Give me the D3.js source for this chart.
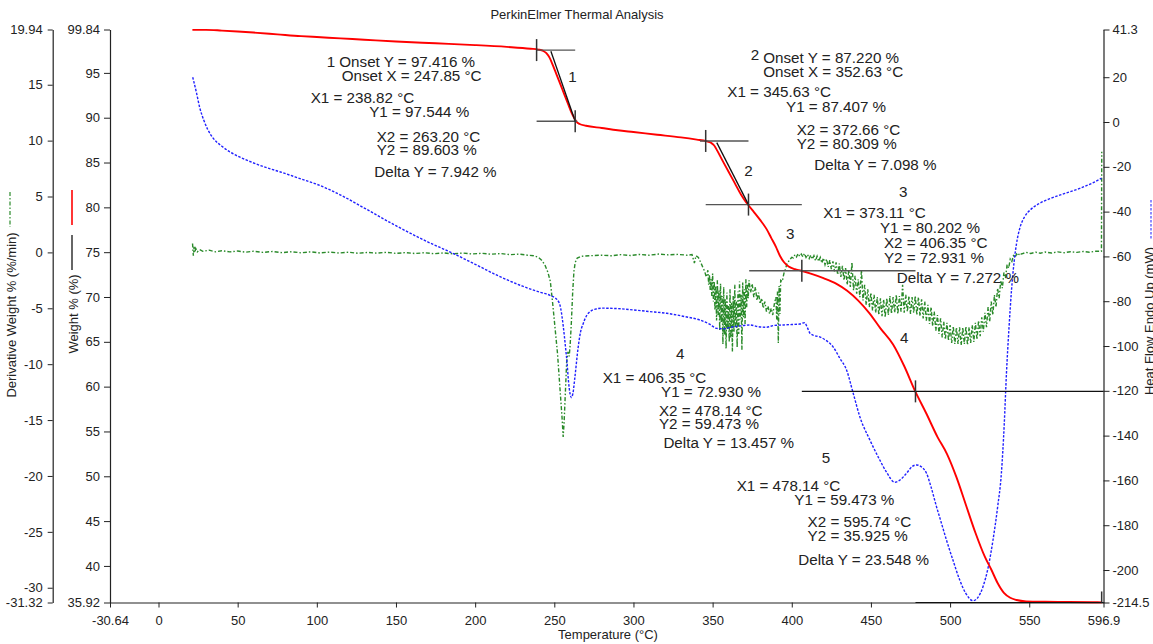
<!DOCTYPE html>
<html>
<head>
<meta charset="utf-8">
<script src="https://cdn.jsdelivr.net/npm/d3@7"></script>
<style>
  html, body { margin: 0; padding: 0; background: #fff; }
  svg { display: block; font-family: "Liberation Sans", Arial, Helvetica, sans-serif; }
</style>
</head>
<body>
<svg id="chart" width="1153" height="644"></svg>
<script>
// ---- TGA weight (%) vs temperature (°C) ----
const weightCurve = [
  [21.4, 99.80], [30, 99.80], [40, 99.72], [50, 99.62], [60, 99.50], [75, 99.30], [90, 99.10],
  [100, 99.00], [115, 98.85], [130, 98.70], [150, 98.50], [175, 98.30], [200, 98.10], [220, 97.90],
  [235, 97.70], [240, 97.60], [243, 97.45], [245, 97.20], [247, 96.70], [249, 95.90], [251, 95.00],
  [253, 94.10], [255, 93.20], [257, 92.30], [259, 91.40], [261, 90.50], [262.5, 90.00], [264, 89.55],
  [266, 89.30], [270, 89.10], [280, 88.85], [290, 88.60], [300, 88.40], [315, 88.10], [330, 87.80],
  [340, 87.55], [346, 87.38], [349, 87.20], [351, 86.90], [353, 86.30], [356, 85.30], [360, 84.00],
  [364, 82.70], [368, 81.40], [371, 80.60], [373, 80.15], [376, 79.50], [380, 78.60], [384, 77.60],
  [387, 76.60], [390, 75.60], [392.5, 74.60], [395, 73.90], [398, 73.40], [402, 73.10], [406, 72.93],
  [412, 72.60], [420, 72.10], [428, 71.50], [435, 70.70], [442, 69.60], [449, 68.20], [456, 66.50],
  [464, 64.70], [471, 62.30], [478, 59.47], [485, 57.00], [492, 54.40], [498, 52.50], [504, 49.90],
  [510, 46.80], [516, 43.70], [522, 41.00], [526, 39.60], [530, 38.10], [534, 37.00], [538, 36.45],
  [542, 36.20], [548, 36.05], [560, 36.00], [575, 35.98], [590, 35.95], [596, 35.93]
];

// ---- Derivative weight (%/min) ----
const derivCurve = [
  [21.5, 0.8], [22, -0.3], [22.5, 0.5], [23, 0.0], [23.5, 0.35], [24.5, 0.05], [26, 0.25], [28, 0.1],
  [32, 0.2], [36, 0.05], [40, 0.15], [45, 0.05], [50, 0.12], [55, 0.02], [60, 0.1], [66, 0.0],
  [72, 0.08], [78, -0.02], [84, 0.06], [90, -0.04], [96, 0.05], [102, -0.05], [108, 0.03], [114, -0.06],
  [120, 0.02], [126, -0.08], [132, 0.0], [138, -0.07], [144, 0.01], [150, -0.09], [156, -0.02],
  [162, -0.1], [168, -0.03], [174, -0.12], [180, -0.05], [186, -0.13], [192, -0.06], [198, -0.14],
  [204, -0.08], [210, -0.16], [216, -0.1], [222, -0.2], [228, -0.15], [233, -0.25], [237, -0.3],
  [240, -0.45], [242, -0.7], [244, -1.1], [246, -1.8], [247.5, -2.6], [249, -4.6], [250.5, -6.8],
  [252, -9.0], [253.5, -12.0], [255, -15.0], [255.6, -16.5], [256.2, -15.2], [257, -12.5],
  [257.8, -9.8], [258.6, -8.9], [259.4, -9.3], [260, -8.3], [260.8, -6.2], [261.6, -3.6],
  [262.4, -1.7], [263.2, -0.9], [264.5, -0.5], [267, -0.35], [272, -0.3], [280, -0.25], [286, -0.3],
  [292, -0.2], [298, -0.28], [304, -0.18], [310, -0.25], [316, -0.15], [322, -0.22], [328, -0.18],
  [334, -0.25], [337, -0.2], [338.5, -0.95], [339.5, -0.3], [341, -0.45], [342.5, -0.9], [344, -1.4],
  [345, -1.7], [346, -2.2], [347, -1.6], [347.5, -2.9], [348, -2.0], [348.5, -3.4], [349, -2.4],
  [349.5, -3.9], [350, -1.9], [350.5, -4.4], [351, -2.6], [351.5, -5.2], [352, -3.0], [352.5, -6.1],
  [353, -2.5], [353.5, -5.6], [354, -3.4], [354.5, -7.0], [355, -2.8], [355.5, -6.3], [356, -3.9],
  [356.5, -8.2], [357, -3.1], [357.5, -7.4], [358, -4.2], [358.5, -8.6], [359, -3.6], [359.5, -6.9],
  [360, -4.8], [360.5, -8.0], [361, -3.3], [361.5, -7.7], [362, -4.5], [362.5, -8.9], [363, -3.9],
  [363.5, -7.1], [364, -2.9], [364.5, -6.6], [365, -4.4], [365.5, -8.5], [366, -3.5], [366.5, -7.3],
  [367, -2.6], [367.5, -6.0], [368, -3.8], [368.5, -8.7], [369, -2.7], [369.5, -5.8], [370, -3.3],
  [370.5, -6.4], [371, -2.4], [371.5, -4.9], [372, -2.9], [372.5, -4.1], [373, -2.5], [374, -3.6],
  [375, -2.8], [376, -4.0], [377, -3.1], [378, -4.3], [379, -3.6], [380, -4.6], [381, -4.1],
  [382, -5.0], [383, -4.4], [384, -5.3], [385, -4.8], [386, -5.5], [387, -5.0], [388, -5.6],
  [389, -4.6], [390, -4.0], [390.5, -6.0], [391, -3.5], [391.5, -8.1], [392, -3.0], [392.5, -5.5],
  [393, -2.5], [394, -2.6], [395, -1.9], [396, -1.5], [397, -1.0], [398, -0.8], [399, -0.6],
  [400, -0.45], [401, -0.5], [402, -0.2], [403, -0.4], [404, -0.1], [405, -0.35], [406, -0.15],
  [407, -0.4], [408, -0.1], [409, -0.45], [410, -0.2], [411, -0.55], [412, -0.25], [413, -0.6],
  [414, -0.3], [415, -0.75], [416, -0.35], [417, -0.8], [418, -0.45], [419, -0.95], [420, -0.5],
  [421, -1.1], [422, -0.6], [423, -1.3], [424, -0.7], [425, -1.5], [426, -0.8], [427, -1.7],
  [428, -0.9], [429, -2.0], [430, -1.0], [431, -2.2], [432, -1.2], [433, -2.5], [434, -1.4],
  [435, -2.9], [436, -1.6], [437, -3.1], [438, -0.9], [439, -3.4], [440, -2.1], [441, -3.7],
  [442, -2.4], [443, -4.0], [444, -1.6], [445, -4.3], [446, -2.9], [447, -4.7], [448, -3.3],
  [449, -4.9], [450, -3.6], [451, -5.2], [452, -3.8], [453, -5.4], [454, -4.0], [455, -5.6],
  [456, -4.1], [457, -5.7], [458, -4.2], [459, -5.8], [460, -4.1], [461, -5.6], [462, -3.9],
  [463, -5.5], [464, -4.0], [465, -5.4], [466, -3.8], [467, -5.5], [468, -3.9], [469, -5.3],
  [470, -2.9], [471, -5.4], [472, -3.8], [473, -5.3], [474, -3.9], [475, -5.5], [476, -4.0],
  [477, -5.4], [478, -3.9], [479, -5.6], [480, -4.0], [481, -5.7], [482, -4.2], [483, -5.9],
  [484, -4.4], [485, -6.1], [486, -4.7], [487, -6.4], [488, -4.9], [489, -6.6], [490, -5.3],
  [491, -7.0], [492, -5.6], [493, -7.3], [494, -5.9], [495, -7.6], [496, -6.2], [497, -7.8],
  [498, -6.3], [499, -7.9], [500, -6.5], [501, -8.1], [502, -6.6], [503, -8.2], [504, -6.7],
  [505, -8.2], [506, -6.7], [507, -8.3], [508, -6.7], [509, -8.2], [510, -6.6], [511, -8.3],
  [512, -6.7], [513, -8.1], [514, -6.5], [515, -8.0], [516, -6.3], [517, -7.8], [518, -6.1],
  [519, -7.5], [520, -5.8], [521, -7.1], [522, -5.4], [523, -6.7], [524, -4.9], [525, -6.2],
  [526, -4.4], [527, -5.6], [528, -3.8], [529, -4.9], [530, -3.2], [531, -4.1], [532, -2.5],
  [533, -3.2], [534, -1.8], [535, -2.3], [536, -1.1], [537, -1.4], [538, -0.6], [539, -0.8],
  [540, -0.3], [541, -0.45], [542, -0.15], [543, -0.3], [544, -0.05], [545, -0.15], [548, 0.0],
  [551, -0.1], [554, 0.02], [557, -0.08], [560, 0.03], [564, -0.06], [568, 0.05], [572, -0.03],
  [576, 0.06], [580, 0.0], [584, 0.08], [588, 0.02], [592, 0.1], [595.6, 0.1], [595.8, 9.0]
];

// ---- Heat flow, endo up (mW) ----
const heatCurve = [
  [21.6, 20.0], [22.5, 17.5], [24, 13.0], [26, 6.5], [28.5, 1.0], [31, -3.2], [34.5, -7.2], [40, -10.8],
  [45, -13.3], [55, -16.8], [65, -19.6], [77, -22.3], [90, -25.4], [100, -27.8], [115, -32.6],
  [130, -38.4], [150, -46.3], [170, -53.5], [185, -58.3], [200, -63.5], [215, -68.8], [230, -73.3],
  [241, -76.0], [247, -77.3], [252, -79.5], [254, -83.0], [255.7, -91.4], [257, -100.0], [258, -107.0],
  [259, -116.0], [260, -121.5], [260.8, -123.0], [261.8, -121.0], [263, -114.0], [265, -101.0],
  [266.5, -94.0], [268.3, -89.9], [270.5, -86.3], [272.5, -84.7], [276, -83.5], [280, -83.1],
  [290, -83.3], [300, -83.9], [310, -84.6], [321, -85.4], [332, -86.8], [342, -88.4], [348, -90.2],
  [352.5, -92.1], [357, -92.3], [363, -91.4], [368, -91.0], [373.5, -90.6], [379, -91.4], [384, -91.6],
  [389, -90.8], [394.6, -90.6], [400, -90.4], [405, -90.2], [408, -89.6], [410, -92.0], [411.5, -94.3],
  [414, -95.3], [418, -96.0], [421, -97.2], [426, -100.3], [430.4, -105.5], [434.6, -110.7],
  [438.8, -121.1], [443, -131.6], [449.3, -141.9], [455.6, -150.9], [460, -156.5], [465, -160.8],
  [468, -160.0], [472.5, -156.8], [476, -153.8], [478.8, -153.1], [482, -154.0], [485.1, -156.8],
  [488, -163.0], [491.4, -171.7], [494.5, -179.0], [497.7, -186.6], [502, -196.0], [506.1, -204.5],
  [510, -210.5], [514.5, -213.7], [517.5, -212.3], [520.8, -207.4], [524, -199.0], [527.1, -186.6],
  [530, -172.0], [532.4, -156.8], [534.2, -135.0], [535.6, -112.2], [537.2, -92.0], [538.8, -75.0],
  [540.5, -62.0], [542, -54.1], [544, -47.5], [547, -42.4], [551, -39.0], [556, -36.5], [563, -34.2],
  [572, -32.0], [582, -29.6], [590, -27.2], [595.6, -25.1]
];

// ---- Axis ticks ----
const tempTicks = [-30.64, 0, 50, 100, 150, 200, 250, 300, 350, 400, 450, 500, 550, 596.9];
const weightTicks = [35.92, 40, 45, 50, 55, 60, 65, 70, 75, 80, 85, 90, 95, 99.84];
const derivTicks = [-31.32, -30, -25, -20, -15, -10, -5, 0, 5, 10, 15, 19.94];
const heatTicks = [-214.5, -200, -180, -160, -140, -120, -100, -80, -60, -40, -20, 0, 20, 41.3];

// ---- Step analysis results (temperature °C, weight %) ----
const stepMarkers = [
  [238.82, 97.544], [263.20, 89.603], [345.63, 87.407], [372.66, 80.309],
  [406.35, 72.931], [478.14, 59.473], [595.74, 35.925]
];
// [from T, to T, weight]
const stepBaselines = [
  [238.82, 263.20, 97.544], [238.82, 264.5, 89.603], [342.0, 372.66, 87.407],
  [345.63, 406.35, 80.309], [373.11, 478.14, 72.931], [406.35, 596.9, 59.473],
  [478.14, 596.9, 35.925]
];
// onset tangent: [onset T, onset W, end T, end W]
const onsetTangents = [
  [247.85, 97.416, 263.20, 89.603],
  [352.63, 87.220, 372.66, 80.309]
];

// Result text, anchored at [T, W]
const resultLabels = [
  ["1 Onset Y = 97.416 %", 106.2, 95.66], ["Onset X = 247.85 °C", 115.7, 94.13],
  ["X1 = 238.82 °C", 96.1, 91.61], ["Y1 = 97.544 %", 133.1, 90.11],
  ["X2 = 263.20 °C", 137.8, 87.32], ["Y2 = 89.603 %", 137.8, 85.84],
  ["Delta Y = 7.942 %", 136.3, 83.42],
  ["2", 374.1, 96.44], ["Onset Y = 87.220 %", 382.0, 96.14], ["Onset X = 352.63 °C", 382.0, 94.57],
  ["X1 = 345.63 °C", 359.3, 92.28], ["Y1 = 87.407 %", 396.4, 90.67],
  ["X2 = 372.66 °C", 403.1, 88.07], ["Y2 = 80.309 %", 403.1, 86.48],
  ["Delta Y = 7.098 %", 414.2, 84.17],
  ["3", 467.7, 81.19], ["X1 = 373.11 °C", 419.9, 78.78], ["Y1 = 80.202 %", 455.7, 77.17],
  ["X2 = 406.35 °C", 458.2, 75.43], ["Y2 = 72.931 %", 458.2, 73.83],
  ["Delta Y = 7.272 %", 466.3, 71.59],
  ["4", 326.9, 63.05], ["X1 = 406.35 °C", 280.6, 60.37], ["Y1 = 72.930 %", 317.4, 58.81],
  ["X2 = 478.14 °C", 316.1, 56.72], ["Y2 = 59.473 %", 316.1, 55.24],
  ["Delta Y = 13.457 %", 318.9, 53.12],
  ["5", 418.9, 51.45], ["X1 = 478.14 °C", 365.2, 48.39], ["Y1 = 59.473 %", 401.6, 46.80],
  ["X2 = 595.74 °C", 410.0, 44.31], ["Y2 = 35.925 %", 410.0, 42.78],
  ["Delta Y = 23.548 %", 404.1, 40.10]
];
const stepNumbers = [["1", 258.8, 94.02], ["2", 370.0, 83.50], ["3", 396.4, 76.43], ["4", 468.4, 64.84]];

// ---- Layout ----
const svg = d3.select("#chart");
const plotLeft = 110, plotRight = 1103.5, plotTop = 29.5, plotBottom = 602.5, derivAxisX = 52.7;
const textColor = "#222";

const x = d3.scaleLinear().domain([-30.64, 596.9]).range([plotLeft, plotRight]);
const yW = d3.scaleLinear().domain([35.92, 99.84]).range([plotBottom, plotTop]);
const yD = d3.scaleLinear().domain([-31.32, 19.94]).range([plotBottom, plotTop]);
const yH = d3.scaleLinear().domain([-214.5, 41.3]).range([plotBottom, plotTop]);

function styleAxis(g) {
  g.select(".domain").attr("stroke", "#222").attr("stroke-width", 1.2);
  g.selectAll(".tick line").attr("stroke", "#222").attr("stroke-width", 1);
  g.selectAll(".tick text").attr("fill", textColor).style("font-size", "13px")
    .style("font-family", "'Liberation Sans', Arial, sans-serif");
}

// Axes
svg.append("g").attr("transform", `translate(0,${plotBottom})`)
  .call(d3.axisBottom(x).tickValues(tempTicks).tickFormat(d => String(d))
    .tickSize(5).tickSizeOuter(0).tickPadding(8))
  .call(styleAxis);

svg.append("g").attr("transform", `translate(${plotLeft},0)`)
  .call(d3.axisLeft(yW).tickValues(weightTicks).tickFormat(d => String(d))
    .tickSize(6).tickSizeOuter(0).tickPadding(4))
  .call(styleAxis);

svg.append("g").attr("transform", `translate(${derivAxisX},0)`)
  .call(d3.axisLeft(yD).tickValues(derivTicks).tickFormat(d => String(d))
    .tickSize(5).tickSizeOuter(0).tickPadding(5))
  .call(styleAxis);

svg.append("g").attr("transform", `translate(${plotRight},0)`)
  .call(d3.axisRight(yH).tickValues(heatTicks).tickFormat(d => String(d))
    .tickSize(6).tickSizeOuter(0).tickPadding(3))
  .call(styleAxis);

// Titles
svg.append("text").attr("x", 577).attr("y", 19).attr("text-anchor", "middle")
  .attr("fill", textColor).style("font-size", "13px").text("PerkinElmer Thermal Analysis");
svg.append("text").attr("x", 608).attr("y", 639).attr("text-anchor", "middle")
  .attr("fill", textColor).style("font-size", "13px").text("Temperature (°C)");

const yTitle = (tx, ty, label) =>
  svg.append("text").attr("transform", `translate(${tx},${ty}) rotate(-90)`)
    .attr("text-anchor", "middle").attr("fill", textColor).style("font-size", "13px").text(label);
yTitle(16, 315, "Derivative Weight % (%/min)");
yTitle(78, 314, "Weight % (%)");
yTitle(1154, 321, "Heat Flow Endo Up (mW)");

// Series key strokes beside axis titles
const key = (kx, y1, y2, color, dash, w) =>
  svg.append("line").attr("x1", kx).attr("x2", kx).attr("y1", y1).attr("y2", y2)
    .attr("stroke", color).attr("stroke-width", w).attr("stroke-dasharray", dash);
key(10, 192, 227, "#2a8a2a", "4,2,1.5,2", 1.2);
key(72, 190, 225, "#ff2020", null, 1.8);
key(72, 235, 270, "#333", null, 1.5);
key(1151, 200, 240, "#4040ff", "2.5,1.5", 1.2);

// Curves
const plot = svg.append("g");
plot.append("path").datum(derivCurve)
  .attr("fill", "none").attr("stroke", "#2a8a2a").attr("stroke-width", 1.4)
  .attr("stroke-dasharray", "4,2,1.5,2")
  .attr("d", d3.line().x(d => x(d[0])).y(d => yD(d[1])));

plot.append("path").datum(heatCurve)
  .attr("fill", "none").attr("stroke", "#2020ff").attr("stroke-width", 1.4)
  .attr("stroke-dasharray", "2.5,1.5")
  .attr("d", d3.line().curve(d3.curveMonotoneX).x(d => x(d[0])).y(d => yH(d[1])));

plot.append("path").datum(weightCurve)
  .attr("fill", "none").attr("stroke", "#ff0000").attr("stroke-width", 1.9)
  .attr("d", d3.line().curve(d3.curveMonotoneX).x(d => x(d[0])).y(d => yW(d[1])));

// Step baselines, tangents and markers
plot.selectAll(".baseline").data(stepBaselines).join("line")
  .attr("x1", d => x(d[0])).attr("x2", d => x(d[1]))
  .attr("y1", d => yW(d[2])).attr("y2", d => yW(d[2]))
  .attr("stroke", (d, i) => i >= 5 ? "#111" : "#555")
  .attr("stroke-width", (d, i) => i >= 5 ? 1.1 : 1.4);

plot.selectAll(".tangent").data(onsetTangents).join("line")
  .attr("x1", d => x(d[0])).attr("y1", d => yW(d[1]))
  .attr("x2", d => x(d[2])).attr("y2", d => yW(d[3]))
  .attr("stroke", "#111").attr("stroke-width", 1.3);

plot.selectAll(".marker").data(stepMarkers).join("line")
  .attr("x1", d => x(d[0])).attr("x2", d => x(d[0]))
  .attr("y1", d => Math.max(plotTop, yW(d[1]) - 11)).attr("y2", d => Math.min(plotBottom, yW(d[1]) + 11))
  .attr("stroke", "#333").attr("stroke-width", 1.5);

// Result text
svg.selectAll(".result").data(resultLabels).join("text")
  .attr("x", d => x(d[1])).attr("y", d => yW(d[2]))
  .attr("fill", textColor).style("font-size", "15.2px").text(d => d[0]);

svg.selectAll(".stepnum").data(stepNumbers).join("text")
  .attr("x", d => x(d[1])).attr("y", d => yW(d[2]))
  .attr("fill", textColor).style("font-size", "15.2px").text(d => d[0]);
</script>
</body>
</html>
